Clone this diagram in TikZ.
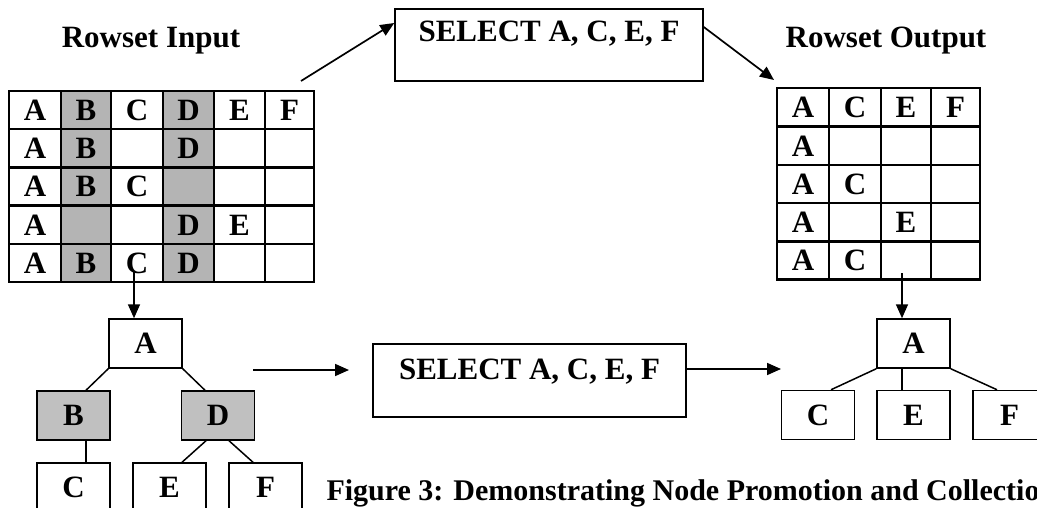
\documentclass[tikz,border=0pt]{standalone}
\usepackage{fontspec}
\setmainfont{Liberation Serif}
\usepackage{tikz}
\usetikzlibrary{arrows.meta,calc}
\definecolor{ColumnGray}{RGB}{180, 180, 180}
\definecolor{NodeGray}{RGB}{192, 192, 192}
\definecolor{Ink}{RGB}{0, 0, 0}

\tikzset{
  bigbold/.style={font=\fontsize{31}{36}\selectfont\bfseries, text=Ink},
  letter/.style={bigbold, inner sep=0pt},
  treebox/.style={bigbold, draw=Ink, line width=1.5pt, minimum width=73pt, minimum height=49pt},
  selectbox/.style={bigbold, draw=Ink, line width=1.5pt, inner ysep=0pt},
  link/.style={draw=Ink, line width=1.5pt},
  flow/.style={draw=Ink, line width=1.7pt, -{Triangle[length=14pt,width=12pt]}},
  gridline/.style={draw=Ink, line width=2.2pt}
}

\begin{document}
\begin{tikzpicture}[x=1pt, y=-1pt]
\useasboundingbox (0,0) rectangle (1037,508);
\clip (0,0) rectangle (1037,508);

% titles
\node[bigbold, anchor=base] (inTitle) at (151,48) {Rowset Input};
\node[bigbold, anchor=base] (outTitle) at (886,48) {Rowset Output};

% input rowset
\fill[ColumnGray] (61,91) rectangle (111,282);
\fill[ColumnGray] (163,91) rectangle (214,282);
\foreach \x in {61,111,163,214,265} \draw[gridline] (\x,91) -- (\x,282);
\foreach \y in {129,167.5,205.5,244} \draw[gridline] (9,\y) -- (314,\y);
\draw[gridline] (9,91) rectangle (314,282);
\node[letter] (in11) at (35,110) {A}; \node[letter] (in12) at (86,110) {B}; \node[letter] (in13) at (137,110) {C};
\node[letter] (in14) at (188.5,110) {D}; \node[letter] (in15) at (239.5,110) {E}; \node[letter] (in16) at (289.5,110) {F};
\node[letter] (in21) at (35,148) {A}; \node[letter] (in22) at (86,148) {B}; \node[letter] (in24) at (188.5,148) {D};
\node[letter] (in31) at (35,186.5) {A}; \node[letter] (in32) at (86,186.5) {B}; \node[letter] (in33) at (137,186.5) {C};
\node[letter] (in41) at (35,225) {A}; \node[letter] (in44) at (188.5,225) {D}; \node[letter] (in45) at (239.5,225) {E};
\node[letter] (in51) at (35,263) {A}; \node[letter] (in52) at (86,263) {B}; \node[letter] (in53) at (137,263) {C};
\node[letter] (in54) at (188.5,263) {D};

% output rowset
\foreach \x in {829,881,931} \draw[gridline] (\x,88) -- (\x,279.5);
\foreach \y in {126.5,165,203,241.5} \draw[gridline] (777,\y) -- (980,\y);
\draw[gridline] (777,88) rectangle (980,279.5);
\node[letter] (out11) at (803,107) {A}; \node[letter] (out12) at (855,107) {C};
\node[letter] (out13) at (906,107) {E}; \node[letter] (out14) at (955.5,107) {F};
\node[letter] (out21) at (803,146) {A};
\node[letter] (out31) at (803,184) {A}; \node[letter] (out32) at (855,184) {C};
\node[letter] (out41) at (803,222) {A}; \node[letter] (out43) at (906,222) {E};
\node[letter] (out51) at (803,260.5) {A}; \node[letter] (out52) at (855,260.5) {C};

% select boxes
\node[selectbox, minimum width=308pt, text height=33pt, text depth=39pt] (selTop) at (549,45) {SELECT A, C, E, F};
\node[selectbox, minimum width=313pt, text height=35.3pt, text depth=37.7pt] (selMid) at (529.5,380.5) {SELECT A, C, E, F};

% input tree
\node[treebox] (lA) at (145.5,343.5) {A};
\node[treebox, fill=NodeGray] (lB) at (73.5,415.5) {B};
\node[treebox, fill=NodeGray] (lD) at (218,415.5) {D};
\node[treebox] (lC) at (73.5,487.5) {C};
\node[treebox] (lE) at (169.5,487.5) {E};
\node[treebox] (lF) at (265.5,487.5) {F};
\draw[link] (lA.south west) -- ($(lB.north)+(12.5,0)$);
\draw[link] (lA.south east) -- ($(lD.north)+(-13,0)$);
\draw[link] ($(lB.south)+(12.5,0)$) -- ($(lC.north)+(12.5,0)$);
\draw[link] ($(lD.south)+(-12,0)$) -- ($(lE.north)+(12.5,0)$);
\draw[link] ($(lD.south)+(11,0)$) -- ($(lF.north)+(-12.5,0)$);

% output tree
\node[treebox] (rA) at (913.5,343.5) {A};
\node[treebox] (rC) at (818,415) {C};
\node[treebox] (rE) at (913.5,415) {E};
\node[treebox] (rF) at (1009.5,415) {F};
\draw[link] (rA.south west) -- ($(rC.north)+(13,0)$);
\draw[link] ($(rA.south)+(-11.5,0)$) -- ($(rE.north)+(-11.5,0)$);
\draw[link] (rA.south east) -- ($(rF.north)+(-12.5,0)$);

% arrows
\coordinate (inUp) at (301,81);
\coordinate (outTop) at (774,80);
\coordinate (inDown) at (134,272);
\coordinate (outDown) at (902,273);
\coordinate (treeOut) at (253,370);
\coordinate (selIn) at (349,370);
\coordinate (rTreeIn) at (781,369);
\draw[flow] (inUp) -- ([yshift=22pt]selTop.west);
\draw[flow] ([yshift=18pt]selTop.east) -- (outTop);
\draw[flow] (inDown) -- (inDown |- lA.north);
\draw[flow] (outDown) -- (outDown |- rA.north);
\draw[flow] (treeOut) -- (selIn);
\draw[flow] ([yshift=11.5pt]selMid.east) -- (rTreeIn);

% caption
\node[bigbold, font=\fontsize{30}{36}\selectfont\bfseries, anchor=base west] (caption) at (323,500) {Figure 3: Demonstrating Node Promotion and Collection};
\end{tikzpicture}
\end{document}
